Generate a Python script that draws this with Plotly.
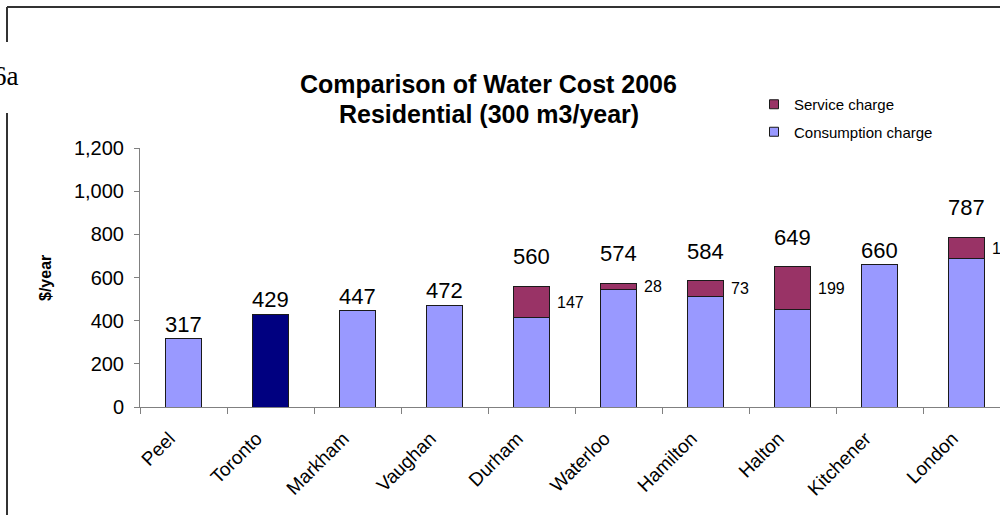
import plotly.graph_objects as go

# Annual residential water cost by municipality (300 m3/year), 2006
regions = ["Peel", "Toronto", "Markham", "Vaughan", "Durham",
           "Waterloo", "Hamilton", "Halton", "Kitchener", "London"]
consumption = [317, 429, 447, 472, 413, 546, 511, 450, 660, 686]
service = [None, None, None, None, 147, 28, 73, 199, None, 101]
totals = [317, 429, 447, 472, 560, 574, 584, 649, 660, 787]
y_ticks = [0, 200, 400, 600, 800, 1000, 1200]

W, H = 1000, 515
ML, MR, MT, MB = 140, 0, 148, 108
PW, PH = W - ML - MR, H - MT - MB


def px_x(px):
    return (px - ML) / PW


def px_y(py):
    return (H - MB - py) / PH


FONT = "Arial, Liberation Sans, sans-serif"
CONS = "#9999FF"
SERV = "#993366"
HIGHLIGHT = "#000080"
AXIS = "#808080"

cons_colors = [HIGHLIGHT if r == "Toronto" else CONS for r in regions]

fig = go.Figure()
fig.add_trace(go.Bar(
    x=regions, y=consumption, name="Consumption charge",
    marker=dict(color=cons_colors, line=dict(color="#1a1a1a", width=1)),
    width=0.41, showlegend=False, hoverinfo="x+y",
))
fig.add_trace(go.Bar(
    x=regions, y=service, name="Service charge",
    marker=dict(color=SERV, line=dict(color="#1a1a1a", width=1)),
    width=0.41, showlegend=False, hoverinfo="x+y",
))

# legend entries with small square swatches
fig.add_trace(go.Scatter(
    x=[None], y=[None], mode="markers", name="Service charge",
    legendgroup="s",
    marker=dict(symbol="square", size=9, color=SERV,
                line=dict(color="#1a1a1a", width=1)),
))
fig.add_trace(go.Scatter(
    x=[None], y=[None], mode="markers", name="Consumption charge",
    legendgroup="c",
    marker=dict(symbol="square", size=9, color=CONS,
                line=dict(color="#1a1a1a", width=1)),
))

annotations = []
# totals above each bar
for i, r in enumerate(regions):
    stacked = service[i] is not None
    annotations.append(dict(
        x=i, y=totals[i], xref="x", yref="y", text=str(totals[i]),
        showarrow=False, yanchor="bottom", xanchor="center",
        yshift=15 if stacked else 0,
        font=dict(family=FONT, size=22, color="black"),
    ))
# service charge amounts beside the upper segment
for i, r in enumerate(regions):
    if service[i] is None:
        continue
    annotations.append(dict(
        x=i + 0.205, y=consumption[i] + service[i] / 2, xref="x", yref="y",
        text=str(service[i]), showarrow=False,
        xanchor="left", yanchor="middle", xshift=6,
        font=dict(family=FONT, size=16, color="black"),
    ))

annotations += [
    dict(x=px_x(488.5), y=px_y(84), xref="paper", yref="paper",
         text="<b>Comparison of Water Cost 2006</b>",
         showarrow=False, xanchor="center", yanchor="middle",
         font=dict(family=FONT, size=25, color="black")),
    dict(x=px_x(488.5), y=px_y(114), xref="paper", yref="paper",
         text="<b>Residential (300 m3/year)</b>",
         showarrow=False, xanchor="center", yanchor="middle",
         font=dict(family=FONT, size=25, color="black")),
    dict(x=px_x(45), y=px_y(278), xref="paper", yref="paper",
         text="<b>$/year</b>", textangle=-90, showarrow=False,
         xanchor="center", yanchor="middle",
         font=dict(family=FONT, size=16, color="black")),
    dict(x=px_x(21), y=px_y(76), xref="paper", yref="paper",
         text="6a", showarrow=False, xanchor="right", yanchor="middle",
         font=dict(family="Liberation Serif, Times New Roman, serif",
                   size=27, color="black")),
]

frame = dict(color="#333333", width=2)
shapes = [
    dict(type="line", xref="paper", yref="paper", layer="above",
         x0=px_x(7), y0=px_y(7), x1=px_x(1000), y1=px_y(7), line=frame),
    dict(type="line", xref="paper", yref="paper", layer="above",
         x0=px_x(7), y0=px_y(7), x1=px_x(7), y1=px_y(42), line=frame),
    dict(type="line", xref="paper", yref="paper", layer="above",
         x0=px_x(7), y0=px_y(113), x1=px_x(7), y1=px_y(515), line=frame),
]

fig.update_layout(
    width=W, height=H,
    margin=dict(l=ML, r=MR, t=MT, b=MB, pad=0),
    paper_bgcolor="white", plot_bgcolor="white",
    barmode="stack",
    font=dict(family=FONT, color="black"),
    annotations=annotations,
    shapes=shapes,
    showlegend=True,
    legend=dict(
        x=px_x(754), y=px_y(88), xanchor="left", yanchor="top",
        xref="paper", yref="paper",
        traceorder="grouped", tracegroupgap=5,
        font=dict(family=FONT, size=15, color="black"),
        bgcolor="rgba(0,0,0,0)", borderwidth=0,
    ),
    xaxis=dict(
        type="category", range=[-0.5, -0.5 + PW / 87.0],
        tickson="boundaries", ticks="outside", ticklen=6,
        tickcolor=AXIS, tickwidth=1,
        showline=True, linecolor=AXIS, linewidth=1,
        showgrid=False, zeroline=False,
        tickangle=-45, ticklabelshift=-14, ticklabelstandoff=12,
        tickfont=dict(family=FONT, size=19, color="black"),
    ),
    yaxis=dict(
        range=[0, 1200], tickvals=y_ticks, tickformat=",",
        ticks="outside", ticklen=5, tickcolor=AXIS, tickwidth=1,
        showline=True, linecolor=AXIS, linewidth=1,
        showgrid=False, zeroline=False, ticklabelstandoff=6,
        tickfont=dict(family=FONT, size=20, color="black"),
    ),
)

fig.write_html("out.html")
